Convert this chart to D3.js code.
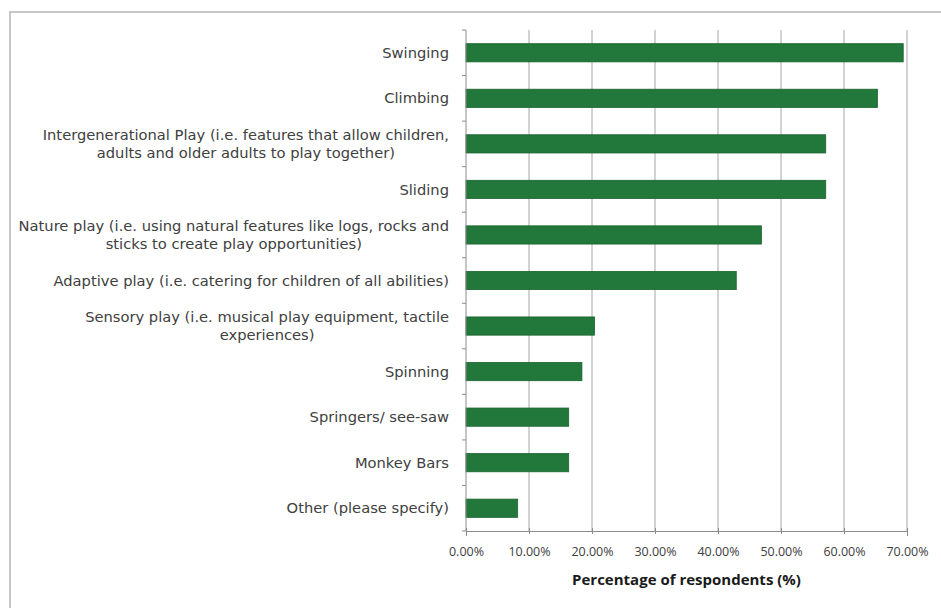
<!DOCTYPE html>
<html><head><meta charset="utf-8">
<script src="https://cdn.jsdelivr.net/npm/d3@7"></script>
<style>
html,body{margin:0;padding:0;background:#fff;}
svg{display:block;}
</style></head>
<body>
<svg id="chart" width="941" height="608"></svg>
<script>
const categories = [
  ["Swinging"],
  ["Climbing"],
  ["Intergenerational Play (i.e. features that allow children,", "adults and older adults to play together)"],
  ["Sliding"],
  ["Nature play (i.e. using natural features like logs, rocks and", "sticks to create play opportunities)"],
  ["Adaptive play (i.e. catering for children of all abilities)"],
  ["Sensory play (i.e. musical play equipment, tactile", "experiences)"],
  ["Spinning"],
  ["Springers/ see-saw"],
  ["Monkey Bars"],
  ["Other (please specify)"]
];
const values = [69.4, 65.3, 57.1, 57.1, 46.9, 42.9, 20.4, 18.4, 16.3, 16.3, 8.2];
const xTicks = [0, 10, 20, 30, 40, 50, 60, 70];
const xTitle = "Percentage of respondents (%)";

const svg = d3.select("#chart");
const W = 941, H = 608;
const m = {left: 466, right: 34, top: 30, bottom: 77};
const fontFam = "'Open Sans', 'Liberation Sans', Arial, sans-serif";
const labelFam = "'DejaVu Sans', 'Liberation Sans', Arial, sans-serif";

// frame
svg.append("path")
  .attr("d", `M10,${H} L10,12 L${W},12`)
  .attr("fill", "none").attr("stroke", "#c6c6c6").attr("stroke-width", 2);

const x = d3.scaleLinear().domain([0, 70]).range([m.left, W - m.right]);
const y = d3.scaleBand().domain(d3.range(categories.length))
  .range([m.top, H - m.bottom]).paddingInner(0.6).paddingOuter(0.3);

const plotTop = m.top, plotBot = H - m.bottom;

// gridlines
svg.append("g").selectAll("line").data(xTicks.slice(1)).join("line")
  .attr("x1", d => x(d)).attr("x2", d => x(d))
  .attr("y1", plotTop).attr("y2", plotBot)
  .attr("stroke", "#a6a6a6").attr("stroke-width", 1);

// bars
svg.append("g").selectAll("rect").data(values).join("rect")
  .attr("x", x(0)).attr("y", (d, i) => y(i))
  .attr("width", d => x(d) - x(0)).attr("height", y.bandwidth())
  .attr("fill", "#22773a").attr("stroke", "#1b6430").attr("stroke-width", 0.8);

// x axis
const xAxis = d3.axisBottom(x).tickValues(xTicks).tickSize(5)
  .tickFormat(d => d.toFixed(2) + "%");
const gx = svg.append("g").attr("transform", `translate(0,${plotBot})`).call(xAxis);
gx.select(".domain").attr("stroke", "#8c8c8c");
gx.selectAll(".tick line").attr("stroke", "#8c8c8c").attr("y1", -3).attr("y2", 3);
gx.selectAll(".tick text").attr("font-family", fontFam).attr("font-size", 12.5)
  .attr("fill", "#404040").attr("dy", "0.35em").attr("y", 21);

// y axis line + ticks at band boundaries
const step = (plotBot - plotTop) / categories.length;
svg.append("line").attr("x1", x(0)).attr("x2", x(0)).attr("y1", plotTop).attr("y2", plotBot)
  .attr("stroke", "#8c8c8c");
svg.append("g").selectAll("line").data(d3.range(categories.length + 1)).join("line")
  .attr("x1", x(0) - 4).attr("x2", x(0))
  .attr("y1", i => plotTop + i * step).attr("y2", i => plotTop + i * step)
  .attr("stroke", "#8c8c8c");

// category labels
const labelRight = x(0) - 17;
const lineH = 18;
const lg = svg.append("g").attr("font-family", labelFam).attr("font-size", 14.7).attr("fill", "#404040");
categories.forEach((lines, i) => {
  const cy = y(i) + y.bandwidth() / 2;
  const t = lg.append("text");
  const n = lines.length;
  const tsp = lines.map((ln, k) => t.append("tspan").text(ln)
    .attr("y", cy + (k - (n - 1) / 2) * lineH).attr("dy", "0.35em"));
  if (n === 1) {
    t.attr("text-anchor", "end");
    tsp[0].attr("x", labelRight);
  } else {
    const widths = tsp.map(s => s.node().getComputedTextLength());
    const maxW = d3.max(widths);
    t.attr("text-anchor", "middle");
    tsp.forEach(s => s.attr("x", labelRight - maxW / 2));
  }
});

// x title
svg.append("text").attr("x", (x(0) + x(70)) / 2).attr("y", plotBot + 54)
  .attr("text-anchor", "middle").attr("font-family", fontFam)
  .attr("font-size", 15).attr("font-weight", "bold").attr("fill", "#1a1a1a")
  .text(xTitle);
</script>
</body></html>
